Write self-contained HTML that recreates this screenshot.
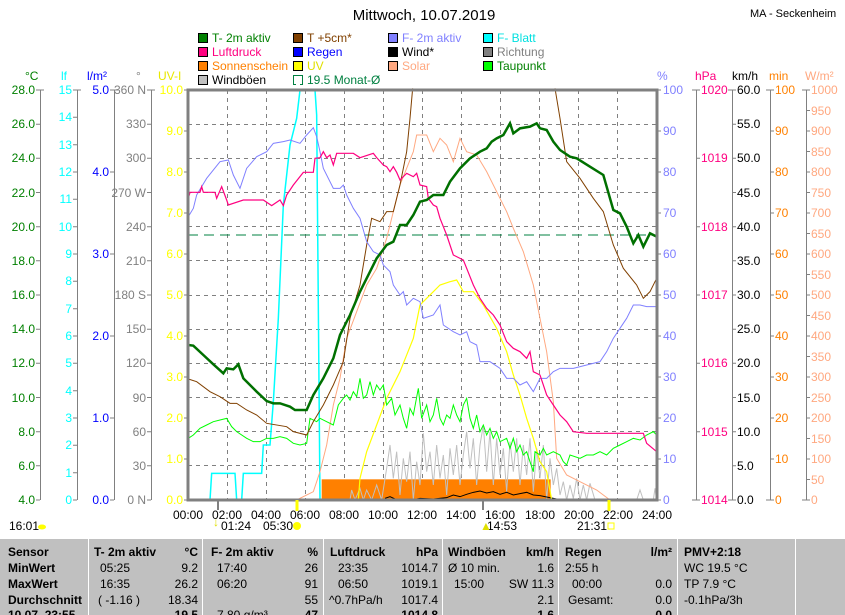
<!DOCTYPE html>
<html><head><meta charset="utf-8"><style>
body{margin:0;background:#fff;width:845px;height:615px;overflow:hidden;font-family:"Liberation Sans",sans-serif}
svg{position:absolute;left:0;top:0}
text{font-family:"Liberation Sans",sans-serif;font-size:12px}
.tb{font-size:11px}
</style></head><body>
<svg width="845" height="615" viewBox="0 0 845 615">
<text x="424" y="20" text-anchor="middle" style="font-size:15px">Mittwoch, 10.07.2019</text>
<text x="750" y="17" style="font-size:11px">MA - Seckenheim</text>
<!-- legend -->
<g style="font-size:11.5px">
<rect x="198.5" y="33.5" width="9" height="9" fill="#008000" stroke="#000"/><text x="212" y="42" fill="#008000">T- 2m aktiv</text>
<rect x="198.5" y="47.5" width="9" height="9" fill="#ff0080" stroke="#000"/><text x="212" y="56" fill="#ff0080">Luftdruck</text>
<rect x="198.5" y="61.5" width="9" height="9" fill="#ff8000" stroke="#000"/><text x="212" y="70" fill="#ff8000">Sonnenschein</text>
<rect x="198.5" y="75.5" width="9" height="9" fill="#c0c0c0" stroke="#000"/><text x="212" y="84" fill="#000">Windböen</text>
<rect x="293.5" y="33.5" width="9" height="9" fill="#804000" stroke="#000"/><text x="307" y="42" fill="#804000">T +5cm*</text>
<rect x="293.5" y="47.5" width="9" height="9" fill="#0000ff" stroke="#000"/><text x="307" y="56" fill="#0000ff">Regen</text>
<rect x="293.5" y="61.5" width="9" height="9" fill="#ffff00" stroke="#000"/><text x="307" y="70" fill="#e0e000">UV</text>
<path d="M296 84.5 H293.5 V75.5 H302.5 V84.5 H300" fill="none" stroke="#008040"/><text x="307" y="84" fill="#008040">19.5 Monat-Ø</text>
<rect x="388.5" y="33.5" width="9" height="9" fill="#8080ff" stroke="#000"/><text x="402" y="42" fill="#8080ff">F- 2m aktiv</text>
<rect x="388.5" y="47.5" width="9" height="9" fill="#000" stroke="#000"/><text x="402" y="56" fill="#000">Wind*</text>
<rect x="388.5" y="61.5" width="9" height="9" fill="#ffa880" stroke="#000"/><text x="402" y="70" fill="#ffa880">Solar</text>
<rect x="483.5" y="33.5" width="9" height="9" fill="#00ffff" stroke="#000"/><text x="497" y="42" fill="#00e0e0">F- Blatt</text>
<rect x="483.5" y="47.5" width="9" height="9" fill="#808080" stroke="#000"/><text x="497" y="56" fill="#808080">Richtung</text>
<rect x="483.5" y="61.5" width="9" height="9" fill="#00ff00" stroke="#000"/><text x="497" y="70" fill="#008000">Taupunkt</text>
</g>
<!-- unit headers -->
<text x="25" y="80" fill="#008000">°C</text>
<text x="61" y="80" fill="#00ffff">lf</text>
<text x="87" y="80" fill="#0000ff">l/m²</text>
<text x="136" y="80" fill="#808080">°</text>
<text x="158" y="80" fill="#e8e800">UV-I</text>
<text x="657" y="80" fill="#8080ff">%</text>
<text x="695" y="80" fill="#ff0080">hPa</text>
<text x="732" y="80">km/h</text>
<text x="769" y="80" fill="#ff8000">min</text>
<text x="805" y="80" fill="#ffa880">W/m²</text>
<!-- left axes lines -->
<g stroke="#808080" stroke-width="1">
<line x1="40.5" y1="90" x2="40.5" y2="500"/><line x1="77.5" y1="90" x2="77.5" y2="500"/>
<line x1="114.5" y1="90" x2="114.5" y2="500"/><line x1="151.5" y1="90" x2="151.5" y2="500"/>
<line x1="696.5" y1="90" x2="696.5" y2="500"/><line x1="732.5" y1="90" x2="732.5" y2="500"/>
<line x1="770.5" y1="90" x2="770.5" y2="500"/><line x1="806.5" y1="90" x2="806.5" y2="500"/>
</g>
<g stroke="#808080">
<path d="M36 90h8M36 124.2h4M36 158.3h4M36 192.5h4M36 226.7h4M36 260.8h4M36 295h4M36 329.2h4M36 363.3h4M36 397.5h4M36 431.7h4M36 465.8h4M36 500h4M40 90h4"/>
<path d="M73 90h8M73 117.3h4M73 144.7h4M73 172h4M73 199.3h4M73 226.7h4M73 254h4M73 281.3h4M73 308.7h4M73 336h4M73 363.3h4M73 390.7h4M73 418h4M73 445.3h4M73 472.7h4M73 500h4"/>
<path d="M110 90h8M110 172h4M110 254h4M110 336h4M110 418h4M110 500h4"/>
<path d="M147 90h8M147 124.2h4M147 158.3h4M147 192.5h4M147 226.7h4M147 260.8h4M147 295h4M147 329.2h4M147 363.3h4M147 397.5h4M147 431.7h4M147 465.8h4M147 500h4"/>
<path d="M184 90h4M184 131h4M184 172h4M184 213h4M184 254h4M184 295h4M184 336h4M184 377h4M184 418h4M184 459h4M184 500h4"/>
<path d="M657 90h4M657 131h4M657 172h4M657 213h4M657 254h4M657 295h4M657 336h4M657 377h4M657 418h4M657 459h4M657 500h4"/>
<path d="M692 90h8M696 158.3h4M696 226.7h4M696 295h4M696 363.3h4M696 431.7h4M692 500h8"/>
<path d="M728 90h8M732 124.2h4M732 158.3h4M732 192.5h4M732 226.7h4M732 260.8h4M732 295h4M732 329.2h4M732 363.3h4M732 397.5h4M732 431.7h4M732 465.8h4M728 500h8"/>
<path d="M766 90h8M770 131h4M770 172h4M770 213h4M770 254h4M770 295h4M770 336h4M770 377h4M770 418h4M770 459h4M766 500h8"/>
<path d="M802 90h8M806 110.5h4M806 131h4M806 151.5h4M806 172h4M806 192.5h4M806 213h4M806 233.5h4M806 254h4M806 274.5h4M806 295h4M806 315.5h4M806 336h4M806 356.5h4M806 377h4M806 397.5h4M806 418h4M806 438.5h4M806 459h4M806 479.5h4M802 500h8"/>
</g>
<g fill="#008000" text-anchor="end">
<text x="35" y="94">28.0</text><text x="35" y="128">26.0</text><text x="35" y="162">24.0</text><text x="35" y="197">22.0</text><text x="35" y="231">20.0</text><text x="35" y="265">18.0</text><text x="35" y="299">16.0</text><text x="35" y="333">14.0</text><text x="35" y="367">12.0</text><text x="35" y="402">10.0</text><text x="35" y="436">8.0</text><text x="35" y="470">6.0</text><text x="35" y="504">4.0</text>
</g>
<g fill="#00ffff" text-anchor="end">
<text x="72" y="94">15</text><text x="72" y="121">14</text><text x="72" y="149">13</text><text x="72" y="176">12</text><text x="72" y="203">11</text><text x="72" y="231">10</text><text x="72" y="258">9</text><text x="72" y="285">8</text><text x="72" y="313">7</text><text x="72" y="340">6</text><text x="72" y="367">5</text><text x="72" y="395">4</text><text x="72" y="422">3</text><text x="72" y="449">2</text><text x="72" y="477">1</text><text x="72" y="504">0</text>
</g>
<g fill="#0000ff" text-anchor="end">
<text x="109" y="94">5.0</text><text x="109" y="176">4.0</text><text x="109" y="258">3.0</text><text x="109" y="340">2.0</text><text x="109" y="422">1.0</text><text x="109" y="504">0.0</text>
</g>
<g fill="#808080" text-anchor="end">
<text x="146" y="94">360 N</text><text x="146" y="128">330</text><text x="146" y="162">300</text><text x="146" y="197">270 W</text><text x="146" y="231">240</text><text x="146" y="265">210</text><text x="146" y="299">180 S</text><text x="146" y="333">150</text><text x="146" y="367">120</text><text x="146" y="402">90</text><text x="146" y="436">60</text><text x="146" y="470">30</text><text x="146" y="504">0 N</text>
</g>
<g fill="#ffff00" text-anchor="end">
<text x="183" y="94">10.0</text><text x="183" y="135">9.0</text><text x="183" y="176">8.0</text><text x="183" y="217">7.0</text><text x="183" y="258">6.0</text><text x="183" y="299">5.0</text><text x="183" y="340">4.0</text><text x="183" y="381">3.0</text><text x="183" y="422">2.0</text><text x="183" y="463">1.0</text><text x="183" y="504">0.0</text>
</g>
<g fill="#8080ff">
<text x="663" y="94">100</text><text x="663" y="135">90</text><text x="663" y="176">80</text><text x="663" y="217">70</text><text x="663" y="258">60</text><text x="663" y="299">50</text><text x="663" y="340">40</text><text x="663" y="381">30</text><text x="663" y="422">20</text><text x="663" y="463">10</text><text x="663" y="504">0</text>
</g>
<g fill="#ff0080">
<text x="701" y="94">1020</text><text x="701" y="162">1019</text><text x="701" y="231">1018</text><text x="701" y="299">1017</text><text x="701" y="367">1016</text><text x="701" y="436">1015</text><text x="701" y="504">1014</text>
</g>
<g fill="#000">
<text x="737" y="94">60.0</text><text x="737" y="128">55.0</text><text x="737" y="162">50.0</text><text x="737" y="197">45.0</text><text x="737" y="231">40.0</text><text x="737" y="265">35.0</text><text x="737" y="299">30.0</text><text x="737" y="333">25.0</text><text x="737" y="367">20.0</text><text x="737" y="402">15.0</text><text x="737" y="436">10.0</text><text x="737" y="470">5.0</text><text x="737" y="504">0.0</text>
</g>
<g fill="#ff8000">
<text x="775" y="94">100</text><text x="775" y="135">90</text><text x="775" y="176">80</text><text x="775" y="217">70</text><text x="775" y="258">60</text><text x="775" y="299">50</text><text x="775" y="340">40</text><text x="775" y="381">30</text><text x="775" y="422">20</text><text x="775" y="463">10</text><text x="775" y="504">0</text>
</g>
<g fill="#ffa880">
<text x="811" y="94">1000</text><text x="811" y="115">950</text><text x="811" y="135">900</text><text x="811" y="156">850</text><text x="811" y="176">800</text><text x="811" y="197">750</text><text x="811" y="217">700</text><text x="811" y="238">650</text><text x="811" y="258">600</text><text x="811" y="279">550</text><text x="811" y="299">500</text><text x="811" y="320">450</text><text x="811" y="340">400</text><text x="811" y="361">350</text><text x="811" y="381">300</text><text x="811" y="402">250</text><text x="811" y="422">200</text><text x="811" y="443">150</text><text x="811" y="463">100</text><text x="811" y="484">50</text><text x="811" y="504">0</text>
</g>
<!-- grid -->
<g stroke="#808080" stroke-dasharray="4,4" stroke-width="1">
<path d="M188 124.5H657M188 158.5H657M188 192.5H657M188 226.5H657M188 260.5H657M188 295.5H657M188 329.5H657M188 363.5H657M188 397.5H657M188 431.5H657M188 465.5H657"/>
<path d="M227.5 90V500M266.5 90V500M305.5 90V500M344.5 90V500M383.5 90V500M422.5 90V500M461.5 90V500M500.5 90V500M539.5 90V500M578.5 90V500M617.5 90V500"/>
</g>
<line x1="188" y1="235" x2="657" y2="235" stroke="#008040" stroke-dasharray="10,6" stroke-width="1"/>
<g transform="translate(180,85) scale(0.33333)" fill="none">
<rect x="425" y="1183" width="687" height="62" fill="#ff8000" stroke="none"/>
<polyline vector-effect="non-scaling-stroke" stroke="#c0c0c0" stroke-width="1" points="510,1245 515,1215 525,1245 540,1210 550,1245 560,1215 575,1245 590,1200 605,1245 620,1150 630,1080 640,1180 650,1100 660,1230 670,1120 680,1190 690,1100 700,1245 710,1130 720,1200 730,1045 740,1160 750,1100 760,1200 770,1080 780,1180 790,1110 800,1230 810,1090 820,1170 830,1080 840,1200 850,1110 860,1040 870,1150 880,1060 890,1200 900,1080 910,1020 920,1160 930,1040 940,1200 950,1060 960,1170 970,1090 980,1220 990,1070 1000,1160 1010,1060 1020,1200 1030,1080 1040,1170 1050,1060 1060,1220 1070,1090 1080,1180 1090,1080 1100,1245 1110,1120 1120,1200 1130,1150 1140,1230 1150,1190 1160,1245 1170,1200 1180,1240 1190,1180 1200,1245 1210,1200 1220,1245 1230,1195 1245,1245 1370,1245 1380,1215 1390,1245 1420,1245 1425,1210 1430,1245"/>
<polyline vector-effect="non-scaling-stroke" stroke="#000" stroke-width="1" points="615,1240 630,1235 650,1244 700,1244 720,1240 760,1242 800,1238 820,1230 840,1235 860,1228 880,1222 900,1218 920,1224 940,1220 960,1228 980,1222 1000,1230 1020,1226 1040,1222 1060,1230 1080,1232 1100,1236 1130,1242 1145,1245"/>
<polyline vector-effect="non-scaling-stroke" stroke="#00ffff" stroke-width="1.5" points="25,1245 90,1245 95,1165 165,1165 170,1245 185,1245 190,1165 245,1165 250,1080 270,1080 280,950 295,700 310,360 330,180 350,100 360,15 405,15 410,90 420,1245 430,1245"/>
<polyline vector-effect="non-scaling-stroke" stroke="#ffa880" stroke-width="1" points="350,1245 400,1220 420,1160 440,1080 460,960 480,880 500,760 530,680 560,600 590,550 620,460 640,380 660,300 680,250 700,200 710,150 740,150 760,200 780,160 800,180 820,230 840,160 860,200 890,210 920,260 950,320 980,380 1000,430 1030,500 1060,600 1080,700 1100,800 1120,950 1130,1120 1160,1170 1200,1190 1250,1215 1290,1245"/>
<polyline vector-effect="non-scaling-stroke" stroke="#ffff00" stroke-width="1.2" points="535,1245 540,1180 560,1100 590,1020 620,940 660,860 700,760 720,660 740,640 760,620 780,600 810,590 830,585 850,620 880,620 910,660 950,730 980,800 1000,870 1020,930 1040,1000 1060,1060 1080,1130 1100,1160 1115,1245"/>
<polyline vector-effect="non-scaling-stroke" stroke="#00ff00" stroke-width="1" points="25,1060 40,1050 60,1030 80,1020 100,1010 120,1005 140,1000 155,1025 170,1040 200,1060 220,1070 240,1070 260,1060 280,1060 300,1055 320,1060 340,1075 360,1080 380,1075 390,1000 410,1010 420,1000 440,1010 460,1020 475,960 490,940 500,930 510,945 520,920 530,935 540,880 550,940 560,930 570,890 580,930 590,900 600,915 610,900 620,960 635,940 645,990 660,960 670,1000 680,1030 690,970 700,990 715,910 725,1000 740,960 750,1010 760,990 770,940 780,1000 790,1020 800,990 810,1000 820,960 830,990 840,1010 850,960 860,940 870,1000 880,1030 890,990 900,1040 910,1020 920,1050 930,1030 940,1060 950,1040 960,1070 980,1060 990,1090 1000,1060 1010,1100 1020,1080 1030,1110 1040,1100 1050,1130 1060,1160 1065,1100 1080,1110 1090,1090 1100,1110 1120,1100 1140,1110 1150,1130 1160,1140 1170,1110 1200,1120 1220,1110 1240,1110 1260,1100 1280,1110 1300,1090 1320,1080 1340,1070 1360,1060 1380,1065 1400,1050 1420,1040 1430,1050"/>
<polyline vector-effect="non-scaling-stroke" stroke="#804000" stroke-width="1" points="25,882 50,890 90,920 120,935 150,955 170,955 200,975 230,990 260,1015 320,1025 340,1040 380,1050 400,1010 430,960 460,900 490,830 510,700 540,600 560,480 575,400 600,410 620,380 640,380 660,300 680,200 690,100 698,10"/>
<polyline vector-effect="non-scaling-stroke" stroke="#804000" stroke-width="1" points="1125,10 1140,100 1160,230 1200,280 1240,340 1270,380 1300,480 1330,550 1370,600 1390,640 1410,620 1430,580"/>
<polyline vector-effect="non-scaling-stroke" stroke="#8080ff" stroke-width="1" points="25,395 40,370 50,330 80,280 120,230 145,225 160,270 180,310 200,250 230,215 260,200 280,175 310,170 330,165 360,175 380,150 400,128 410,155 420,200 430,250 460,310 480,310 490,300 500,330 520,370 540,400 560,470 580,500 600,510 610,540 630,560 640,600 660,630 670,620 680,660 700,640 720,650 730,700 760,690 780,660 790,720 820,740 840,750 860,740 870,770 890,780 900,830 930,830 960,850 980,880 1000,880 1020,900 1040,890 1060,920 1080,880 1100,880 1120,860 1140,850 1180,850 1220,840 1260,830 1280,800 1300,760 1320,730 1340,700 1360,660 1380,660 1400,665 1430,665"/>
<polyline vector-effect="non-scaling-stroke" stroke="#ff0080" stroke-width="1.2" points="25,340 30,322 60,322 65,305 70,322 105,322 110,340 125,305 140,345 145,360 190,345 250,345 275,362 300,345 310,362 320,330 340,300 370,262 400,262 405,220 420,218 430,200 440,218 450,210 460,240 470,205 520,205 540,218 580,205 590,218 610,240 620,245 630,260 640,245 650,262 660,285 680,265 700,275 710,265 720,300 740,305 745,340 760,360 770,365 780,400 800,450 820,510 850,525 860,550 880,600 900,640 920,670 940,690 960,720 980,770 1000,790 1020,800 1040,820 1050,800 1060,860 1080,870 1100,930 1120,960 1140,990 1160,1010 1180,1040 1220,1045 1300,1045 1390,1045 1400,1075 1430,1100"/>
<polyline vector-effect="non-scaling-stroke" stroke="#007000" stroke-width="2.5" points="25,780 40,782 70,810 100,838 130,865 140,850 160,853 175,838 190,880 230,920 260,948 280,955 300,955 330,965 345,975 380,975 400,930 430,880 460,820 480,750 510,690 540,620 570,560 590,520 620,480 640,470 660,420 680,420 700,390 720,350 740,345 760,330 790,330 810,290 840,250 870,220 900,200 920,190 935,170 950,160 970,150 990,115 1000,145 1020,130 1050,125 1070,115 1080,130 1100,135 1120,170 1140,195 1170,215 1190,220 1230,245 1270,270 1300,375 1320,385 1340,425 1360,475 1375,450 1390,485 1410,445 1430,455"/>
</g>
<line x1="188" y1="499.5" x2="657" y2="499.5" stroke="#0000ff" stroke-dasharray="2,1"/>
<rect x="188" y="90" width="469" height="410" fill="none" stroke="#808080" stroke-width="3"/>
<!-- bottom markers -->
<g stroke="#ffff00" stroke-width="3"><path d="M297 500v11M609 500v11"/></g>
<g stroke="#808080" stroke-width="2"><path d="M218 500v10M483 500v10"/></g>
<g text-anchor="middle" style="font-size:12px">
<text x="188" y="519">00:00</text><text x="227" y="519">02:00</text><text x="266" y="519">04:00</text><text x="305" y="519">06:00</text><text x="344" y="519">08:00</text><text x="383" y="519">10:00</text><text x="422" y="519">12:00</text><text x="461" y="519">14:00</text><text x="500" y="519">16:00</text><text x="540" y="519">18:00</text><text x="579" y="519">20:00</text><text x="618" y="519">22:00</text><text x="657" y="519">24:00</text>
</g>
<g style="font-size:12px">
<text x="9" y="530">16:01</text><ellipse cx="42" cy="527" rx="4" ry="2.5" fill="#ffff00"/>
<text x="221" y="530">01:24</text><text x="213" y="526" fill="#e0e000">↓</text>
<text x="263" y="530">05:30</text><circle cx="297" cy="526" r="4" fill="#ffff00"/>
<text x="487" y="530">14:53</text><text x="480" y="530" fill="#e0e000">▲</text>
<text x="577" y="530">21:31</text><rect x="608" y="523" width="6" height="6" fill="none" stroke="#ffff00"/>
</g>
<!-- table -->
<rect x="0" y="538" width="845" height="77" fill="#c0c0c0"/>
<line x1="0" y1="538.5" x2="845" y2="538.5" stroke="#fff"/>
<g stroke="#fff"><path d="M88.5 538V615M202.5 538V615M323.5 538V615M442.5 538V615M558.5 538V615M677.5 538V615M795.5 538V615"/></g>
<g class="tb" style="font-weight:bold">
<text x="8" y="556">Sensor</text><text x="8" y="572">MinWert</text><text x="8" y="588">MaxWert</text><text x="8" y="604">Durchschnitt</text><text x="8" y="619">10.07. 23:55</text>
<text x="94" y="556">T- 2m aktiv</text><text x="198" y="556" text-anchor="end">°C</text>
<text x="211" y="556">F- 2m aktiv</text><text x="318" y="556" text-anchor="end">%</text>
<text x="330" y="556">Luftdruck</text><text x="438" y="556" text-anchor="end">hPa</text>
<text x="448" y="556">Windböen</text><text x="554" y="556" text-anchor="end">km/h</text>
<text x="565" y="556">Regen</text><text x="672" y="556" text-anchor="end">l/m²</text>
<text x="684" y="556">PMV+2:18</text>
<text x="198" y="619" text-anchor="end">19.5</text><text x="318" y="619" text-anchor="end">47</text><text x="438" y="619" text-anchor="end">1014.8</text><text x="554" y="619" text-anchor="end">1.6</text><text x="672" y="619" text-anchor="end">0.0</text>
</g>
<g class="tb">
<text x="100" y="572">05:25</text><text x="198" y="572" text-anchor="end">9.2</text>
<text x="100" y="588">16:35</text><text x="198" y="588" text-anchor="end">26.2</text>
<text x="98" y="604">( -1.16 )</text><text x="198" y="604" text-anchor="end">18.34</text>
<text x="217" y="572">17:40</text><text x="318" y="572" text-anchor="end">26</text>
<text x="217" y="588">06:20</text><text x="318" y="588" text-anchor="end">91</text>
<text x="318" y="604" text-anchor="end">55</text><text x="217" y="619">7.80 g/m³</text>
<text x="338" y="572">23:35</text><text x="438" y="572" text-anchor="end">1014.7</text>
<text x="338" y="588">06:50</text><text x="438" y="588" text-anchor="end">1019.1</text>
<text x="329" y="604">^0.7hPa/h</text><text x="438" y="604" text-anchor="end">1017.4</text>
<text x="448" y="572">Ø 10 min.</text><text x="554" y="572" text-anchor="end">1.6</text>
<text x="454" y="588">15:00</text><text x="554" y="588" text-anchor="end">SW 11.3</text>
<text x="554" y="604" text-anchor="end">2.1</text>
<text x="565" y="572">2:55 h</text>
<text x="572" y="588">00:00</text><text x="672" y="588" text-anchor="end">0.0</text>
<text x="568" y="604">Gesamt:</text><text x="672" y="604" text-anchor="end">0.0</text>
<text x="684" y="572">WC 19.5 °C</text>
<text x="684" y="588">TP 7.9 °C</text>
<text x="684" y="604">-0.1hPa/3h</text>
</g>
</svg>
</body></html>
